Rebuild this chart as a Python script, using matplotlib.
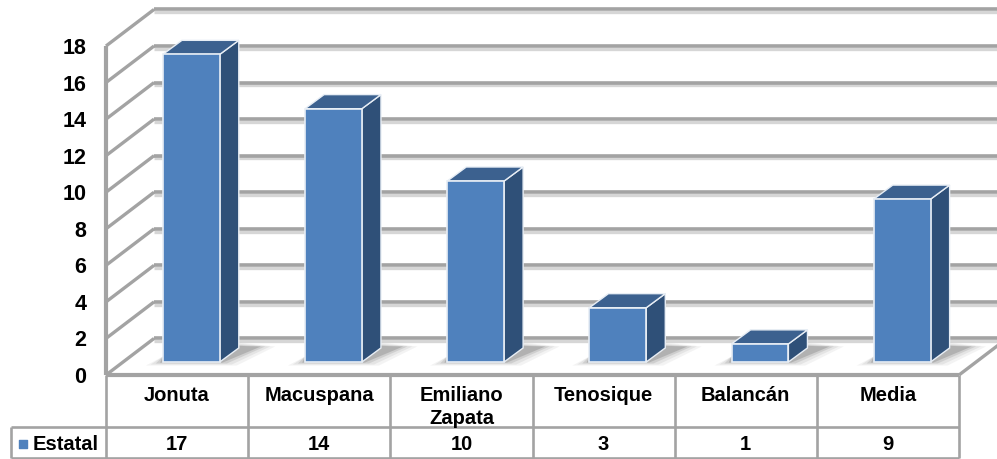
#! /usr/bin/env python
"""Fake 3D bar chart with data table underneath, Estatal series"""

from matplotlib import pyplot as plt
from matplotlib.patches import Polygon

# Chart data
CATEGORIES = ["Jonuta", "Macuspana", "Emiliano\nZapata", "Tenosique", "Balancán", "Media"]
ESTATAL = [17, 14, 10, 3, 1, 9]
Y_TICKS = [0, 2, 4, 6, 8, 10, 12, 14, 16, 18]
SERIES_NAME = "Estatal"

# Colours
FRONT = "#4F81BD"
TOP = "#3C618F"
SIDE = "#2F5078"
GRID = "#A3A3A3"
GRID_SHADE = "#D6D6D6"

# Depth of the 3D box and of the bars, in data units
BACK_DX, BACK_DY = 0.338, 2.0
BAR_DX, BAR_DY = 0.134, 0.77
BAR_LEFT, BAR_WIDTH = 0.40, 0.40
BAR_BASE = 0.71
BAR_SCALE = 0.99
ROW_1, ROW_2, ROW_3 = 0.0, -2.84, -4.54

plt.rcParams["font.family"] = ["Liberation Sans", "DejaVu Sans"]
plt.rcParams["font.weight"] = "bold"

fig = plt.figure(figsize=(9.97, 4.59), dpi=100)
ax = fig.add_axes([106 / 997, 84 / 459, 853 / 997, 329 / 459])
ax.set_xlim(0, 6)
ax.set_ylim(0, 18)
for spine in ax.spines.values():
    spine.set_visible(False)
ax.set_yticks(Y_TICKS, [str(t) for t in Y_TICKS], fontsize=15.5)
ax.tick_params(axis="y", length=0, pad=14)
ax.set_xticks([])


def line(xs, ys, color=GRID, lw=2.6, z=2):
    ax.plot(xs, ys, color=color, lw=lw, zorder=z, clip_on=False, solid_capstyle="butt")


# Walls: back gridlines, left diagonals, left edge and floor
for t in Y_TICKS:
    line([BACK_DX, 6 + BACK_DX], [t + BACK_DY - 0.15] * 2, GRID_SHADE, 2.4, 1)
    line([BACK_DX, 6 + BACK_DX], [t + BACK_DY] * 2)
    line([0, BACK_DX], [t, t + BACK_DY], lw=2.4)
line([0, 0], [0, 18], lw=3.0)
line([0, 6], [0, 0], lw=3.0, z=5)
line([6, 6 + BACK_DX], [0, BACK_DY], lw=2.4)

# Bars with a soft floor shadow
for i, value in enumerate(ESTATAL):
    x0 = i + BAR_LEFT
    x1 = x0 + BAR_WIDTH
    y0 = BAR_BASE
    y1 = y0 + value * BAR_SCALE
    for grow, alpha in ((0.12, 0.07), (0.085, 0.10), (0.05, 0.16), (0.02, 0.26)):
        ax.add_patch(Polygon(
            [(x0 - grow, y0 - 1.6 * grow), (x1 + grow, y0 - 1.6 * grow),
             (x1 + 0.27 + grow, y0 + 0.85), (x1 + 0.10, y0 + 0.85 + 2 * grow),
             (x0, y0 + 0.3)],
            facecolor="#606060", edgecolor="none", alpha=alpha, zorder=3, clip_on=False))
    ax.add_patch(Polygon(
        [(x1, y0), (x1 + BAR_DX, y0 + BAR_DY), (x1 + BAR_DX, y1 + BAR_DY), (x1, y1)],
        facecolor=SIDE, edgecolor="#E8EEF5", lw=1.0, zorder=4, clip_on=False))
    ax.add_patch(Polygon(
        [(x0, y1), (x1, y1), (x1 + BAR_DX, y1 + BAR_DY), (x0 + BAR_DX, y1 + BAR_DY)],
        facecolor=TOP, edgecolor="#E8EEF5", lw=1.0, zorder=4, clip_on=False))
    ax.bar(x0, y1 - y0, BAR_WIDTH, bottom=y0, align="edge", color=FRONT,
           edgecolor="#E8EEF5", lw=1.2, zorder=5)

# Data table
for i in range(7):
    line([i, i], [ROW_3, ROW_1], lw=1.9)
line([-0.668, 6], [ROW_2, ROW_2], lw=1.9)
line([-0.668, 6], [ROW_3, ROW_3], lw=1.9)
line([-0.668, -0.668], [ROW_3, ROW_2], lw=1.9)

for i, (name, value) in enumerate(zip(CATEGORIES, ESTATAL)):
    ax.text(i + 0.5, -0.60, name, ha="center", va="top", fontsize=14.5, linespacing=1.3)
    ax.text(i + 0.5, -3.80, str(value), ha="center", va="center", fontsize=14.5)

ax.scatter([-0.585], [-3.80], marker="s", s=38, color=FRONT, clip_on=False, zorder=5)
ax.text(-0.515, -3.80, SERIES_NAME, ha="left", va="center", fontsize=14.5)

fig.savefig("out.png", dpi=100, facecolor="white")
